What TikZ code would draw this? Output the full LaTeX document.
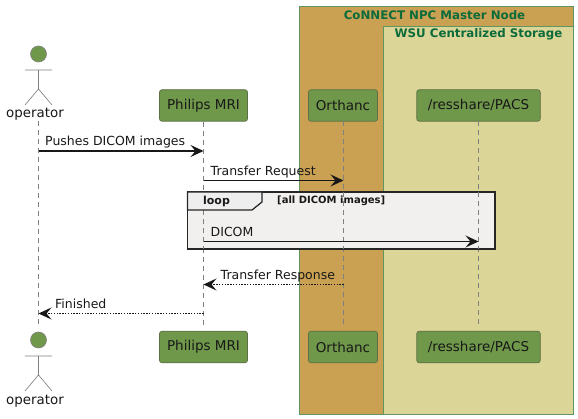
\documentclass[tikz,border=0pt]{standalone}
\usepackage{fontspec}
\setmainfont{DejaVu Sans}
\usetikzlibrary{arrows.meta,positioning}
\definecolor{pgreen}{HTML}{6F984A}
\definecolor{pborder}{HTML}{5F6F45}
\definecolor{boxa}{HTML}{CAA052}
\definecolor{boxb}{HTML}{DCD598}
\definecolor{boxline}{HTML}{5E9560}
\definecolor{titlecol}{HTML}{0B6B3A}
\definecolor{loopbg}{HTML}{F1F0EE}
\definecolor{tabbg}{HTML}{EEEEEE}
\definecolor{ink}{HTML}{181818}
\tikzset{
  x=1pt,y=-1pt,
  participant/.style={draw=pborder,line width=.7pt,fill=pgreen,rounded corners=2.5pt,minimum height=31.5pt,inner sep=0pt,text=ink,font=\fontsize{13.5}{15}\selectfont,anchor=center},
  lifeline/.style={draw=black!50,line width=.6pt,dash pattern=on 5pt off 4pt},
  actorline/.style={draw=black!50,line width=.65pt},
  msg/.style={draw=ink,line width=1.45pt,-{Stealth[length=13pt,width=12pt,inset=5pt]}},
  reply/.style={msg,line width=1.5pt,dash pattern=on 1.4pt off 1.4pt},
  msgtext/.style={font=\fontsize{12.5}{15}\selectfont,text=ink,anchor=base west,inner sep=0pt},
  boxtitle/.style={font=\bfseries\fontsize{11.8}{14}\selectfont,text=titlecol,inner sep=0pt,anchor=center},
  actorname/.style={font=\fontsize{13.4}{15}\selectfont,text=ink,inner sep=0pt,anchor=center}
}
\newcommand{\stickman}[2]{%
  \path[actorline] (#1,#2+16) -- (#1,#2+35) (#1-13.5,#2+16) -- (#1+13.5,#2+16)
    (#1-13.5,#2+51) -- (#1,#2+35) -- (#1+13.5,#2+51);
  \draw[actorline,fill=pgreen] (#1,#2) circle (8);
}
\begin{document}
\begin{tikzpicture}
\useasboundingbox (0,0) rectangle (578,419);
% group boxes
\draw[boxline,line width=.8pt,fill=boxa] (299.5,6.5) rectangle (573.5,414);
\draw[boxline,line width=.8pt,fill=boxb] (383.5,26.5) rectangle (573.5,414);
\node[boxtitle] (tmaster) at (434.5,15) {CoNNECT NPC Master Node};
\node[boxtitle] (tstore) at (478.5,34.5) {WSU Centralized Storage};
% participants
\coordinate (optop) at (38.5,121);
\coordinate (opbot) at (38.5,328);
\node[participant,minimum width=88pt] (mriT) at (203.5,105.5) {Philips MRI};
\node[participant,minimum width=69pt] (orthT) at (343,105.5) {Orthanc};
\node[participant,minimum width=123.5pt] (pacsT) at (478.5,105.5) {/resshare/PACS};
\node[participant,minimum width=88pt] (mriB) at (203.5,347) {Philips MRI};
\node[participant,minimum width=69pt] (orthB) at (343,347) {Orthanc};
\node[participant,minimum width=123.5pt] (pacsB) at (478.5,347) {/resshare/PACS};
% actors
\stickman{38.5}{54}
\stickman{38.5}{340}
\node[actorname] (opT) at (35,114) {operator};
\node[actorname] (opB) at (35,401) {operator};
% lifelines
\draw[lifeline] (optop) -- (opbot);
\coordinate (mrib) at (203.5,328);
\coordinate (orthb) at (343.5,328);
\coordinate (pacsb) at (478.5,328);
\draw[lifeline] (mriT.south) -- (mrib);
\draw[lifeline] (343.5,121.5) -- (orthb);
\draw[lifeline] (478.5,121.5) -- (pacsb);
% loop frame
\draw[black!85,line width=1.3pt,fill=loopbg] (187.5,192) rectangle (495,249);
\draw[lifeline] (203.5,192) -- (203.5,249);
\draw[lifeline] (343.5,192) -- (343.5,249);
\draw[lifeline] (478.5,192) -- (478.5,249);
\draw[black!85,line width=1.2pt,fill=tabbg] (187.5,192) -- (262,192) -- (262,202) -- (252,210) -- (187.5,210) -- cycle;
\node[font=\bfseries\fontsize{11}{13}\selectfont,text=ink,inner sep=0pt] (looptxt) at (216.5,201.5) {loop};
\node[font=\bfseries\fontsize{10}{12}\selectfont,text=ink,inner sep=0pt,anchor=west] (loopcond) at (277,200.5) {[all DICOM images]};
% message endpoints
\coordinate (a1) at (38.5,151); \coordinate (b1) at (203.5,151);
\coordinate (a2) at (203.5,180.5); \coordinate (b2) at (343.5,180.5);
\coordinate (a3) at (203.5,241.5); \coordinate (b3) at (478.5,241.5);
\coordinate (a4) at (343.5,284.5); \coordinate (b4) at (203.5,284.5);
\coordinate (a5) at (203.5,313.5); \coordinate (b5) at (38.5,313.5);
\draw[msg] (a1) -- (b1);
\draw[msg] (a2) -- (b2);
\draw[msg] (a3) -- (b3);
\draw[reply] (a4) -- (b4);
\draw[reply] (a5) -- (b5);
\node[msgtext] (m1) at (45,146) {Pushes DICOM images};
\node[msgtext] (m2) at (210.5,175.5) {Transfer Request};
\node[msgtext] (m3) at (210.5,236.5) {DICOM};
\node[msgtext] (m4) at (220.5,279.5) {Transfer Response};
\node[msgtext] (m5) at (55,308.5) {Finished};
\end{tikzpicture}
\end{document}
